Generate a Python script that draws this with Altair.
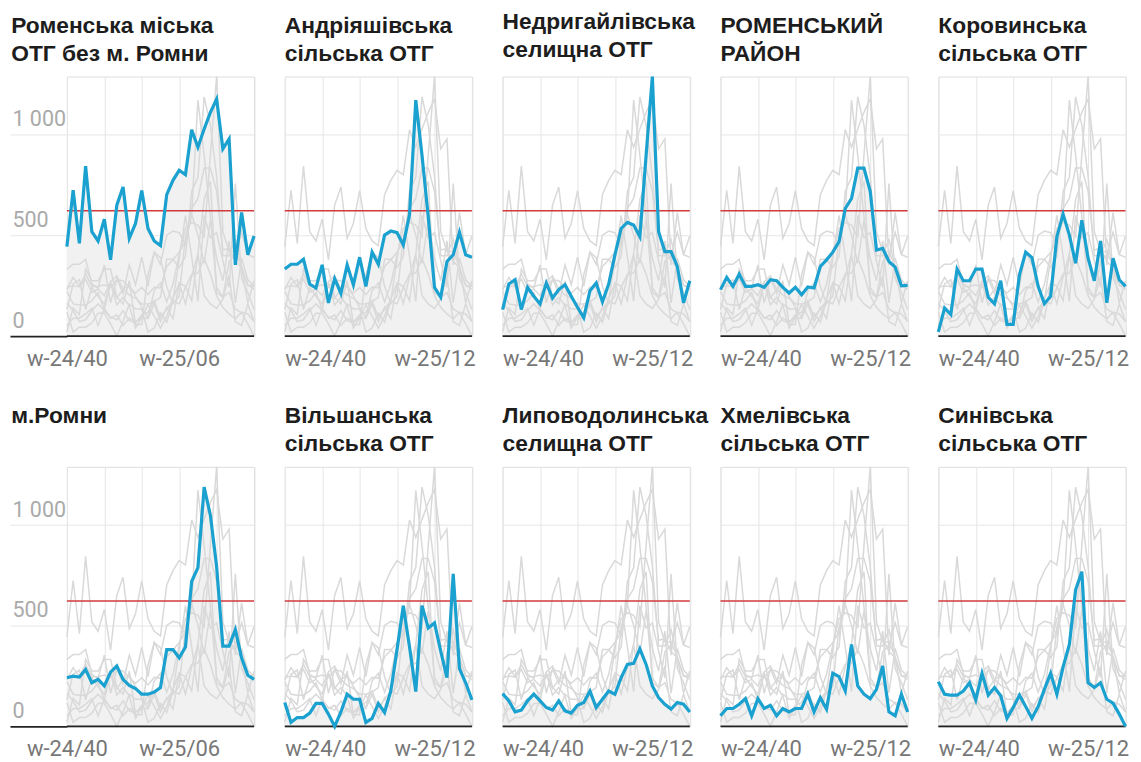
import altair as alt
import pandas as pd

# ---- data -------------------------------------------------------------
weeks = [f"w-24/{w}" for w in range(40, 53)] + [f"w-25/{w:02d}" for w in range(1, 19)]

series_names = [
    "Роменська міська ОТГ без м. Ромни",
    "Андріяшівська сільська ОТГ",
    "Недригайлівська селищна ОТГ",
    "РОМЕНСЬКИЙ РАЙОН",
    "Коровинська сільська ОТГ",
    "м.Ромни",
    "Вільшанська сільська ОТГ",
    "Липоводолинська селищна ОТГ",
    "Хмелівська сільська ОТГ",
    "Синівська сільська ОТГ",
]
panel_titles = [
    ["Роменська міська", "ОТГ без м. Ромни"],
    ["Андріяшівська", "сільська ОТГ"],
    ["Недригайлівська", "селищна ОТГ"],
    ["РОМЕНСЬКИЙ", "РАЙОН"],
    ["Коровинська", "сільська ОТГ"],
    ["м.Ромни", " "],
    ["Вільшанська", "сільська ОТГ"],
    ["Липоводолинська", "селищна ОТГ"],
    ["Хмелівська", "сільська ОТГ"],
    ["Синівська", "сільська ОТГ"],
]

romenska_otg = [445, 725, 461, 845, 519, 473, 581, 379, 651, 741, 486, 560, 723, 535, 473, 450,
                703, 774, 824, 802, 1026, 939, 1029, 1112, 1178, 931, 980, 354, 614, 404, 497]
andriiashivska = [333, 357, 357, 382, 259, 239, 354, 165, 285, 212, 354, 255, 392, 247, 417, 357,
                  502, 522, 514, 453, 604, 1173, 898, 593, 242, 193, 371, 404, 516, 404, 392]
nedryhailivska = [132, 259, 280, 132, 242, 198, 160, 264, 189, 231, 255, 198, 143, 91, 226, 264,
                  170, 259, 404, 535, 565, 552, 494, 900, 1290, 519, 420, 420, 346, 165, 275]
romenskyi_raion = [231, 292, 247, 308, 247, 247, 255, 242, 280, 275, 242, 214, 242, 206, 244, 239,
                   346, 379, 417, 469, 634, 684, 835, 835, 720, 428, 436, 371, 343, 250, 252]
korovynska = [21, 140, 107, 333, 275, 275, 333, 333, 193, 160, 275, 58, 58, 305, 417, 390,
              247, 161, 198, 494, 606, 502, 362, 576, 387, 275, 473, 165, 387, 280, 247]
m_romny = [242, 250, 245, 283, 217, 234, 201, 270, 300, 234, 204, 188, 160, 160, 171, 193,
           382, 382, 341, 395, 720, 789, 1189, 1049, 794, 399, 399, 481, 341, 254, 234]
vilshanska = [119, 20, 44, 44, 66, 114, 114, 61, 0, 72, 160, 135, 135, 20, 40, 114,
              69, 176, 382, 600, 395, 173, 600, 489, 514, 374, 242, 758, 287, 217, 132]
lypovodolynska = [163, 127, 72, 81, 127, 160, 127, 94, 81, 127, 77, 66, 105, 119, 176, 94,
                  135, 176, 160, 242, 308, 313, 385, 308, 201, 143, 110, 86, 119, 110, 72]
khmelivska = [53, 89, 89, 110, 138, 53, 138, 89, 105, 53, 89, 72, 89, 89, 160, 72,
              143, 86, 264, 247, 176, 407, 201, 160, 138, 184, 300, 72, 53, 160, 72]
synivska = [222, 160, 155, 155, 176, 217, 132, 264, 155, 193, 152, 40, 94, 155, 99, 40,
            99, 184, 264, 160, 296, 407, 679, 769, 217, 193, 217, 135, 115, 61, 0]

series_values = [romenska_otg, andriiashivska, nedryhailivska, romenskyi_raion, korovynska,
                 m_romny, vilshanska, lypovodolynska, khmelivska, synivska]

threshold_value = [623]
y_ticks = [0, 500, 1000]
x_grid = [0, 6, 12, 18, 24, 30]

rows = []
for name, vals in zip(series_names, series_values):
    for i, v in enumerate(vals):
        rows.append({"series": name, "idx": i, "week": weeks[i], "value": v})
df = pd.DataFrame(rows)
thr_df = pd.DataFrame({"value": threshold_value})
base_df = pd.DataFrame({"value": [0]})

# ---- style ------------------------------------------------------------
FONT = "Roboto"
TITLE_FONT = "Liberation Sans"
GRID = "#e6e6e6"
GREY_LINE = "#d9d9d9"
AREA = "#f1f1f1"
BLUE = "#1aa1cf"
RED = "#d2393b"
W, H = 187.5, 260
YMAX = 1290


def x_enc(first):
    if first:
        expr = f"datum.value == 0 ? '{weeks[0]}' : datum.value == 18 ? '{weeks[18]}' : ''"
    else:
        expr = f"datum.value == 0 ? '{weeks[0]}' : datum.value == 24 ? '{weeks[24]}' : ''"
    axis = alt.Axis(
        values=x_grid, grid=True, gridColor=GRID, gridWidth=1, ticks=False, domain=False,
        labelExpr=expr, labelFlush=not first, labelOverlap=False,
        labelFont=FONT, labelFontSize=22, labelColor="#777777", labelPadding=12,
        title=None,
    )
    return alt.X("idx:Q", scale=alt.Scale(domain=[0, 30], nice=False, zero=False), axis=axis)


def y_enc(first, field="value"):
    if first:
        axis = alt.Axis(
            values=y_ticks, grid=True, gridColor=GRID, gridWidth=1, domain=False,
            ticks=True, tickSize=57,
            tickColor={"condition": {"test": "datum.value === 0", "value": "#222222"}, "value": GRID},
            tickWidth={"condition": {"test": "datum.value === 0", "value": 1.6}, "value": 1},
            labelAlign="left", labelBaseline="alphabetic", labelOffset=-9, labelPadding=-2,
            labelExpr="replace(format(datum.value, ',d'), ',', ' ')",
            labelFont=FONT, labelFontSize=21.5, labelColor="#aaaaaa",
            title=None,
        )
    else:
        axis = alt.Axis(values=y_ticks, grid=True, gridColor=GRID, gridWidth=1, labels=False,
                        ticks=False, domain=False, title=None)
    return alt.Y(f"{field}:Q", scale=alt.Scale(domain=[0, YMAX], nice=False, zero=True), axis=axis)


def panel(k):
    name = series_names[k]
    first = (k % 5 == 0)
    x = x_enc(first)
    y = y_enc(first)
    base = alt.Chart(df)
    hl = base.transform_filter(alt.datum.series == name)
    area = hl.mark_area(color=AREA).encode(x=x, y=y)
    grey = base.mark_line(color=GREY_LINE, strokeWidth=1.5).encode(x=x, y=y, detail="series:N")
    thr = alt.Chart(thr_df).mark_rule(color=RED, strokeWidth=1.6).encode(y=y)
    baseline = alt.Chart(base_df).mark_rule(color="#222222", strokeWidth=1.6).encode(y=y)
    line = hl.mark_line(color=BLUE, strokeWidth=3.2, strokeJoin="miter").encode(x=x, y=y)
    return alt.layer(area, grey, thr, baseline, line).properties(
        width=W, height=H,
        title=alt.TitleParams(
            text=panel_titles[k], anchor="start", frame="bounds" if first else "group",
            dx=2 if first else 0,
            font=TITLE_FONT, fontSize=22.8,
            fontWeight="bold", color="#1d1d1d", lineHeight=28, baseline="bottom", offset=-15,
        ),
    )


chart = alt.concat(
    *[panel(k) for k in range(10)],
    columns=5,
    spacing={"row": 131, "column": 30.25},
    bounds="flush",
).properties(
    padding={"left": 0, "top": 2, "right": 0, "bottom": 0}
).configure_view(stroke=None).configure(background="white")

chart.save("out.html", embed_options={"renderer": "svg", "actions": False})
